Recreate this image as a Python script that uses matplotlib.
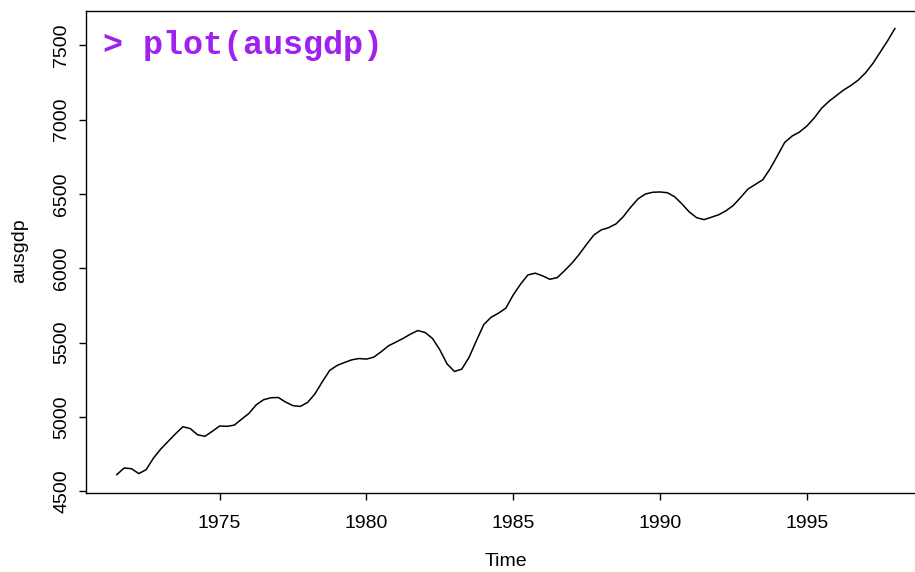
import matplotlib
matplotlib.use("Agg")
import matplotlib.pyplot as plt
import numpy as np

# quarterly series, starts 1971 Q3
start_year = 1971.5
ausgdp = [4612, 4657, 4652, 4619, 4646, 4724, 4785, 4836, 4887, 4934,
          4922, 4880, 4870, 4903, 4939, 4937, 4945, 4985, 5024, 5082,
          5116, 5129, 5131, 5100, 5076, 5071, 5098, 5156, 5237, 5313,
          5346, 5366, 5384, 5393, 5389, 5402, 5438, 5478, 5503, 5528,
          5557, 5581, 5568, 5528, 5452, 5356, 5306, 5322, 5402, 5514,
          5622, 5671, 5698, 5732, 5820, 5893, 5955, 5967, 5949, 5926,
          5937, 5984, 6034, 6094, 6161, 6224, 6258, 6273, 6298, 6347,
          6410, 6466, 6499, 6511, 6513, 6508, 6481, 6432, 6378, 6340,
          6327, 6343, 6360, 6387, 6423, 6477, 6533, 6564, 6595, 6669,
          6757, 6847, 6889, 6916, 6956, 7010, 7075, 7122, 7160, 7198,
          7229, 7265, 7314, 7377, 7453, 7529, 7612]
x_ticks = [1975, 1980, 1985, 1990, 1995]
y_ticks = [4500, 5000, 5500, 6000, 6500, 7000, 7500]

t = start_year + np.arange(len(ausgdp)) / 4

plt.rcParams['font.family'] = ['Liberation Sans', 'DejaVu Sans']

W, H = 915, 572
fig = plt.figure(figsize=(W / 100, H / 100), dpi=100)
# box runs past the right edge of the picture, as in the original
left, right, top, bottom = 85.7, 926, 10.7, 492.5
ax = fig.add_axes([left / W, 1 - bottom / H, (right - left) / W, (bottom - top) / H])

ax.plot(t, ausgdp, color='black', linewidth=1.1)

# R style 4% padding
xr = t[-1] - t[0]
yr = max(ausgdp) - min(ausgdp)
ax.set_xlim(t[0] - 0.04 * xr, t[-1] + 0.04 * xr)
ax.set_ylim(min(ausgdp) - 0.04 * yr, max(ausgdp) + 0.04 * yr)

ax.set_xticks(x_ticks)
ax.set_yticks(y_ticks)
ax.set_yticklabels([str(v) for v in y_ticks], rotation=90, va='center')
ax.tick_params(axis='both', direction='out', length=5, width=1.0,
               labelsize=14, color='black')
ax.tick_params(axis='y', pad=6)
ax.tick_params(axis='x', pad=11)
for s in ax.spines.values():
    s.set_linewidth(1.0)

fig.text(20 / W, 1 - 251 / H, 'ausgdp', rotation=90, fontsize=14,
         ha='center', va='center')
fig.text(506 / W, 1 - 561 / H, 'Time', fontsize=14, ha='center', va='center')

fig.text(103 / W, 1 - 54 / H, '> plot(ausgdp)', fontsize=24, fontweight='bold',
         family='Liberation Mono', color='#A020F0', ha='left', va='baseline')

fig.savefig('out.png', dpi=100)
